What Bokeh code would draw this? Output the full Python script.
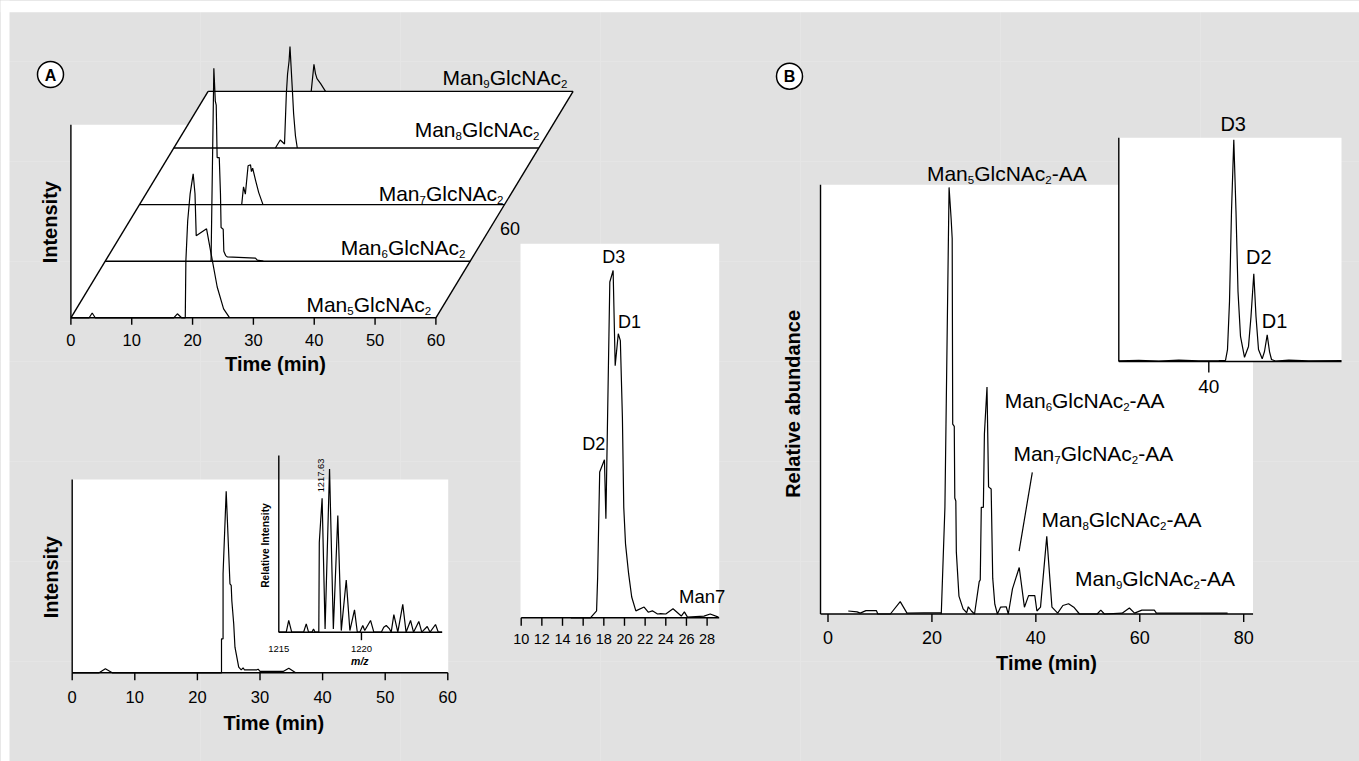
import math
from bokeh.plotting import figure
from bokeh.models import Range1d
from bokeh.core.properties import value
from bokeh.embed import file_html
from bokeh.resources import INLINE

# ======================= DATA =======================
# Panel A (top): stacked chromatograms, time (min) vs intensity (a.u.)
stack_names = ["5", "6", "7", "8", "9"]          # Man_n GlcNAc_2
stack_ticks = [0, 10, 20, 30, 40, 50, 60]
man5_time = [0, 3.0, 3.5, 4.0, 16.9, 17.5, 18.2, 18.8, 18.9, 19.2, 19.6, 20.1, 20.4, 20.6, 22.3, 22.96, 24.05, 25.1, 26.1]
man5_int = [0, 0, 2.4, 0, 0, 2.0, 0, 0, 28.5, 48.5, 62, 72, 62, 41, 44.5, 33.5, 15.4, 4.5, 0]
man6_time = [17.4, 17.86, 18.1, 18.25, 18.4, 18.75, 18.95, 19.05, 19.4, 19.5, 19.8, 20.05, 24.7, 25.0, 26.0]
man6_int = [0, 96.5, 80, 78, 51.8, 51.8, 33.5, 16.8, 16, 5, 2.8, 2.2, 1.5, 0.5, 0]
man7_time = [16.8, 17.1, 17.4, 17.85, 18.25, 18.4, 18.6, 19.1, 19.6, 20.3]
man7_int = [0, 8.9, 5.2, 19.4, 19.9, 16.5, 18.2, 11.9, 6, 0]
man8_time = [16.7, 17.5, 18.2, 18.5, 18.7, 18.95, 19.1, 19.5, 19.7, 20.0, 20.3]
man8_int = [0, 4, 2, 27, 37, 43.5, 50.7, 28.5, 17, 6, 0]
man9_time = [16.95, 17.4, 17.65, 17.9, 18.5, 19.3]
man9_int = [0, 13.5, 8.9, 6.4, 3.9, 0]

# Panel A (bottom left): extracted ion chromatogram
xic_ticks = [0, 10, 20, 30, 40, 50, 60]
xic_time = [0, 4.3, 5.3, 6.4, 23.85, 23.85, 24.1, 24.1, 24.6, 25.2, 25.4, 25.5, 25.8, 26.0, 26.6,
            27.0, 27.3, 27.5, 29.5, 29.7, 30.0, 33.7, 34.6, 35.7]
xic_int = [0, 0, 2, 0, 0, 17, 17, 49.5, 90.8, 44.5, 43.7, 36, 24.5, 12.8, 2.8,
           1.5, 2.5, 1.5, 1.5, 1.8, 0.7, 0.7, 2.3, 0]

# Inset: mass spectrum (m/z vs relative intensity %)
ms_ticks = [1215, 1220]
ms_mz = [1215.0, 1215.45, 1215.6, 1215.78, 1216.5, 1216.66, 1216.8, 1217.0, 1217.1, 1217.2,
         1217.42, 1217.45, 1217.62, 1217.8, 1218.07, 1218.3, 1218.57, 1218.78, 1219.08, 1219.3,
         1219.58, 1219.75, 1219.9, 1220.08, 1220.2, 1220.55, 1220.75, 1221.2, 1221.35, 1221.5,
         1221.7, 1221.8, 1221.96, 1222.2, 1222.5, 1222.7, 1222.97, 1223.15, 1223.47, 1223.65,
         1223.98, 1224.15, 1224.48, 1224.65, 1224.88]
ms_int = [0, 0, 7.2, 0, 0, 5.1, 0, 0, 2.0, 0,
          0, 55, 82, 2, 100, 2, 71.5, 1, 32, 1,
          13.7, 0, 0, 4.1, 1, 7.2, 0, 0, 3, 4.1,
          2, 0, 10.8, 0, 17, 0, 7.2, 0, 6.6, 0,
          3.5, 0, 4.7, 0, 0]

# Panel A (middle): D1/D2/D3 isomers
iso_ticks = [10, 12, 14, 16, 18, 20, 22, 24, 26, 28]
iso_time = [14.8, 16.7, 17.3, 17.4, 17.6, 18.06, 18.2, 18.58, 18.9, 19.1, 19.4, 19.6, 19.8, 19.93, 20.1,
            20.4, 20.7, 21.1, 21.9, 22.3, 22.7, 23.2, 23.5, 24.0, 24.7, 25.5, 25.8, 26.1, 27.7, 28.3, 29.1]
iso_int = [0, 0, 2.0, 11.5, 42, 45.5, 28.5, 96.7, 100, 72.6, 81.8, 79.8, 57.5, 31.8, 21.3,
           12.7, 6, 2, 3.1, 1.6, 2, 1.1, 1.2, 1.1, 2.6, 0.5, 1.7, 0.2, 0.5, 1.1, 0.2]

# Panel B: 2-AA labelled glycans (relative abundance %)
b_ticks = [0, 20, 40, 60, 80]
b_time = [3.9, 5.6, 6.2, 7.3, 9.3, 9.6, 12.0, 13.9, 15.2, 21.7, 21.8, 22.5, 23.3, 23.7, 23.9,
          24.0, 24.3, 24.4, 24.6, 24.7, 25.2, 26.0, 26.7, 27.0, 27.6, 28.2,
          29.1, 29.3, 29.5, 29.9, 30.1, 30.6, 30.9, 31.4, 31.7, 32.1, 32.6,
          33.2, 34.3, 34.7, 35.5, 36.8, 37.8, 38.6, 39.8, 40.2, 40.9, 42.1, 43.1, 44.2,
          45.2, 46.3, 47.3, 48.4, 51.8, 52.5, 53.2, 56.6, 58.0, 59.0, 60.4, 62.8, 63.2, 76.9]
b_abund = [0.7, 0.5, 0.2, 0.8, 0.8, 0, 0, 2.9, 0.2, 0.3, 0, 25, 100, 92.6, 88,
           44.5, 44, 27.2, 26.5, 14.5, 4.2, 1.2, 0.3, 1.7, 0.7, 0,
           7.6, 8, 25, 25, 42.2, 53.2, 29.8, 29.3, 8.4, 2.3, 0,
           1.6, 1.7, 0, 5.9, 10.9, 1.6, 4.3, 4.3, 0.7, 1.6, 18.2, 1.6, 0.2,
           2.0, 2.4, 1.6, 0, 0, 0.9, 0, 0.2, 1.4, 0.2, 0.9, 0.9, 0.2, 0.2]
b_labels = ["5", "6", "7", "8", "9"]

# Panel B inset: D3/D2/D1
bi_ticks = [40]
bi_time = [31.0, 33.0, 35.0, 37.0, 39.0, 41.0, 41.67, 41.87, 42.07, 42.27, 42.5, 42.72, 42.92, 43.17,
           43.57, 43.97, 44.22, 44.5, 44.72, 44.97, 45.34, 45.57, 45.84, 46.07, 46.27, 46.67, 48.0, 50.0, 53.27]
bi_int = [0.3, 0.5, 0.2, 0.6, 0.3, 0.4, 0.5, 5.4, 27, 67.7, 100, 67.7, 31.6, 11.3,
          1.9, 6.8, 20.3, 39.6, 20.3, 5.4, 1.2, 4.5, 12, 4.5, 0.9, 0.2, 0.6, 0.3, 0.4]

# ======================= FIGURE =======================
BG = "#e1e1e1"
FONT = value("Liberation Sans")
LW_T = 1.2   # trace
LW_A = 1.4   # axes
WIDTH, HEIGHT = 1359, 761

p = figure(width=WIDTH, height=HEIGHT, x_range=Range1d(0, WIDTH), y_range=Range1d(0, HEIGHT),
           output_backend="svg", toolbar_location=None, min_border=0,
           x_axis_location=None, y_axis_location=None,
           background_fill_color=BG, border_fill_color=BG, outline_line_color=None)


def X(px):
    return px


def Y(py):
    return HEIGHT - py


def panel(xs, ys, left, right, bottom, top):
    return p.subplot(x_source=Range1d(*xs), y_source=Range1d(*ys),
                     x_target=Range1d(X(left), X(right)),
                     y_target=Range1d(Y(bottom), Y(top)))


def label(x, y, s, size, align="center", baseline="middle", style="normal", angle=0.0):
    p.text(x=[X(x)], y=[Y(y)], text=[s], text_font=FONT, text_font_size=f"{size}px",
           text_font_style=style, text_align=align, text_baseline=baseline, angle=angle,
           text_color="black")


ADV = {"M": .833, "a": .556, "n": .556, "G": .778, "l": .222, "c": .5, "N": .722, "A": .667, "-": .333}


def adv(s, size):
    return sum(ADV.get(ch, .556) for ch in s) * size


def glycan(x, y, n, suffix="", align="left", size=21, sub=11.5, drop=6.5):
    parts = [("Man", False), (n, True), ("GlcNAc", False), ("2", True)]
    if suffix:
        parts.append((suffix, False))
    total = sum(adv(s, sub if is_sub else size) for s, is_sub in parts)
    cx = x - total if align == "right" else x
    for s, is_sub in parts:
        sz = sub if is_sub else size
        label(cx, y + (drop if is_sub else 0), s, sz, align="left", baseline="alphabetic")
        cx += adv(s, sz)


def ticks(sp, vals, labels, length, off, size):
    sp.ray(x=vals, y=[0] * len(vals), length=length, length_units="screen", angle=-math.pi / 2,
           line_color="black", line_width=LW_A)
    sp.text(x=vals, y=[0] * len(vals), text=labels, y_offset=off, text_align="center",
            text_baseline="middle", text_font=FONT, text_font_size=f"{size}px", text_color="black")


# ---------- layout constants ----------
A_LEFT, A_BASE, A_W, A_DX, A_DY = 70.4, 317.3, 365.0, 34.3, 56.6
corners = [(A_LEFT, A_BASE), (A_LEFT + A_W, A_BASE),
           (A_LEFT + 4 * A_DX + A_W, A_BASE - 4 * A_DY), (A_LEFT + 4 * A_DX, A_BASE - 4 * A_DY)]

# ---------- page margins (white) ----------
p.quad(left=[0, 0], right=[WIDTH, 9], top=[HEIGHT, HEIGHT], bottom=[Y(11.7), 0],
       fill_color="white", line_color=None)

# ---------- white backgrounds ----------
p.quad(left=[X(70.4), X(71.7), X(520), X(820)], right=[X(215), X(447.7), X(718.7), X(1252.5)],
       top=[Y(124.3), Y(479), Y(243.3), Y(184.3)], bottom=[Y(317.3), Y(672.3), Y(617.3), Y(613.5)],
       fill_color="white", line_color=None)
p.patch(x=[X(c[0]) for c in corners], y=[Y(c[1]) for c in corners], fill_color="white", line_color=None)
p.quad(left=[X(1118.3)], right=[X(1341)], top=[Y(137.3)], bottom=[Y(361)], fill_color="white", line_color=None)

# ---------- panel letters ----------
p.scatter(x=[X(50), X(789)], y=[Y(74), Y(75.7)], size=26, marker="circle", fill_color="white",
          line_color="black", line_width=1.5)
label(50, 74.5, "A", 16, style="bold")
label(789, 76.2, "B", 16, style="bold")

# ---------- Panel A: stacked chromatograms ----------
stack_t = [man5_time, man6_time, man7_time, man8_time, man9_time]
stack_i = [man5_int, man6_int, man7_int, man8_int, man9_int]
layers = []
for i in range(5):
    left = A_LEFT + i * A_DX
    base = A_BASE - i * A_DY
    sp = panel((0, 60), (0, 100), left, left + A_W, base, base - 200)
    layers.append(sp)
    sp.line(x=[0, 60], y=[0, 0], line_color="black", line_width=LW_A)
# slanted edges
p.line(x=[X(corners[0][0]), X(corners[3][0])], y=[Y(corners[0][1]), Y(corners[3][1])],
       line_color="black", line_width=LW_A)
p.line(x=[X(corners[1][0]), X(corners[2][0])], y=[Y(corners[1][1]), Y(corners[2][1])],
       line_color="black", line_width=LW_A)
for i in range(5):
    layers[i].line(x=stack_t[i], y=stack_i[i], line_color="black", line_width=LW_T)
layers[0].line(x=[0, 0], y=[0, 96.5], line_color="black", line_width=LW_A)
ticks(layers[0], stack_ticks, [str(t) for t in stack_ticks], 7, 22, 16.5)
label(275, 363.3, "Time (min)", 20, style="bold")
label(49.6, 221.7, "Intensity", 20, style="bold", angle=math.pi / 2)
label(499.6, 228.3, "60", 18, align="left", baseline="alphabetic")
stack_label_pos = [(430.7, 303.5), (465, 247), (503, 192.7), (539, 129.3), (566.8, 76.7)]
for n, (lx, ly) in zip(stack_names, stack_label_pos):
    glycan(lx, ly, n, align="right")

# ---------- Panel A: XIC ----------
xic = panel((0, 60), (0, 100), 71.7, 447.3, 672.3, 472.3)
xic.line(x=[0, 60], y=[0, 0], line_color="black", line_width=LW_A)
xic.line(x=[0, 0], y=[0, 96.65], line_color="black", line_width=LW_A)
xic.line(x=xic_time, y=xic_int, line_color="black", line_width=LW_T)
ticks(xic, xic_ticks, [str(t) for t in xic_ticks], 7.5, 24.4, 16.5)
label(273.3, 722.7, "Time (min)", 20, style="bold")
label(50, 576.7, "Intensity", 20, style="bold", angle=math.pi / 2)

# inset mass spectrum
ms = panel((1215, 1225), (0, 100), 278.3, 443.6, 631.7, 468.4)
ms.line(x=[1215, 1224.88], y=[0, 0], line_color="black", line_width=LW_A)
ms.line(x=[1215, 1215], y=[0, 108.2], line_color="black", line_width=LW_A)
ms.line(x=ms_mz, y=ms_int, line_color="black", line_width=LW_T)
ms.ray(x=[1220], y=[0], length=8, length_units="screen", angle=-math.pi / 2, line_color="black", line_width=LW_A)
ms.text(x=ms_ticks, y=[0, 0], text=[str(t) for t in ms_ticks], y_offset=16.6, text_align="center",
        text_baseline="middle", text_font=FONT, text_font_size="9.5px", text_color="black")
label(359.3, 660.7, "m/z", 10.5, style="bold italic")
label(265, 545, "Relative Intensity", 10.3, style="bold", angle=math.pi / 2)
label(320, 475, "1217.63", 9.3, angle=math.pi / 2)

# ---------- Panel A: isomers ----------
iso = panel((10, 29.2), (0, 100), 520.7, 719.0, 617.3, 270.0)
iso.line(x=[10, 29.17], y=[0, 0], line_color="black", line_width=LW_A)
iso.line(x=iso_time, y=iso_int, line_color="black", line_width=LW_T)
ticks(iso, iso_ticks, [str(t) for t in iso_ticks], 8, 21, 14.5)
label(613.3, 256, "D3", 18)
label(629, 321, "D1", 18)
label(593.3, 443.3, "D2", 18)
label(701.7, 595.7, "Man7", 18.5)

# ---------- Panel B ----------
bp = panel((0, 80), (0, 100), 827.5, 1243.2, 613.5, 186.9)
bp.line(x=[-1.44, 81.8], y=[0, 0], line_color="black", line_width=LW_A)
bp.line(x=[-1.44, -1.44], y=[0, 100.6], line_color="black", line_width=LW_A)
bp.line(x=b_time, y=b_abund, line_color="black", line_width=LW_T)
ticks(bp, b_ticks, [str(t) for t in b_ticks], 8, 23, 18)
label(1046, 662.3, "Time (min)", 20, style="bold")
label(792.5, 403.4, "Relative abundance", 20, style="bold", angle=math.pi / 2)
b_label_pos = [(926.4, 172.9), (1004.3, 400.4), (1012.9, 453.3), (1041.1, 519.2), (1074.6, 578.0)]
for n, (lx, ly) in zip(b_labels, b_label_pos):
    glycan(lx, ly, n, suffix="-AA", align="left")
p.line(x=[X(1031.8), X(1018.6)], y=[Y(471.8), Y(550.6)], line_color="black", line_width=LW_T)

# inset
bi = panel((31, 53.27), (0, 100), 1118.3, 1341, 361, 139.3)
bi.line(x=[31, 53.27], y=[0, 0], line_color="black", line_width=LW_A)
bi.line(x=[31, 31], y=[0, 100.9], line_color="black", line_width=LW_A)
bi.line(x=bi_time, y=bi_int, line_color="black", line_width=LW_T)
ticks(bi, bi_ticks, [str(t) for t in bi_ticks], 11, 25, 19)
label(1232.7, 123.3, "D3", 20)
label(1258.3, 256.7, "D2", 20)
label(1274, 320, "D1", 20)

html = file_html(p, INLINE, title="Glycan chromatograms")
html = html.replace("</head>", "<style>html,body{background:#e1e1e1;overflow:hidden;}</style></head>", 1)
open("out.html", "w").write(html)
